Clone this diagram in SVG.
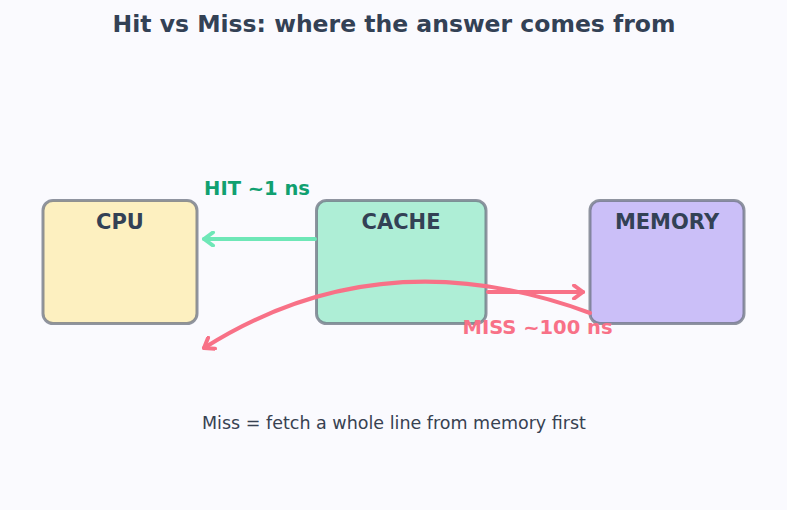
<svg xmlns="http://www.w3.org/2000/svg" width="787" height="510" viewBox="0 0 787 510">
<style>
.node{stroke:#6b7280;stroke-opacity:0.75;stroke-width:3}
.lbl{font-family:"DejaVu Sans",sans-serif;font-weight:bold;font-size:21px;fill:#334155;text-anchor:middle}
.edge{fill:none;stroke-width:4;stroke-linecap:round}
</style>
<defs>
<marker id="ag" viewBox="0 0 16 16" refX="13" refY="8" markerWidth="16" markerHeight="16" markerUnits="userSpaceOnUse" orient="auto">
<path d="M4,1.5 L13,8 L4,14.5" fill="none" stroke="#6ee7b7" stroke-width="4" stroke-linecap="round" stroke-linejoin="round"/>
</marker>
<marker id="ar" viewBox="0 0 16 16" refX="13" refY="8" markerWidth="16" markerHeight="16" markerUnits="userSpaceOnUse" orient="auto">
<path d="M4,1.5 L13,8 L4,14.5" fill="none" stroke="#f87187" stroke-width="4" stroke-linecap="round" stroke-linejoin="round"/>
</marker>
</defs>
<rect width="787" height="510" fill="#fafafe"/>
<text x="394" y="32" font-family="DejaVu Sans,sans-serif" font-weight="bold" font-size="23.5" fill="#334155" text-anchor="middle">Hit vs Miss: where the answer comes from</text>
<g id="cpu"><rect class="node" x="43" y="200.5" width="154" height="123" rx="10" fill="#fdf0c0"/><text class="lbl" x="120" y="229">CPU</text></g>
<g id="cache"><rect class="node" x="316.5" y="200.5" width="169.5" height="123" rx="10" fill="#aeeed6"/><text class="lbl" x="401" y="229">CACHE</text></g>
<g id="memory"><rect class="node" x="590" y="200.5" width="154" height="123" rx="10" fill="#cbbff8"/><text class="lbl" x="667" y="229">MEMORY</text></g>
<g id="connectors">
<path class="edge" d="M315,239 L204,239" stroke="#6ee7b7" marker-end="url(#ag)"/>
<path class="edge" d="M488,292 L583,292" stroke="#f87187" marker-end="url(#ar)"/>
<path class="edge" d="M590,313 Q381,236 204,348" stroke="#f87187" marker-end="url(#ar)"/>
<text x="257" y="195" font-family="DejaVu Sans,sans-serif" font-weight="bold" font-size="19.5" fill="#10a070" text-anchor="middle">HIT ~1 ns</text>
<text x="537.5" y="334" font-family="DejaVu Sans,sans-serif" font-weight="bold" font-size="19.5" fill="#f87187" text-anchor="middle">MISS ~100 ns</text>
</g>
<text x="394" y="429" font-family="DejaVu Sans,sans-serif" font-size="17.5" fill="#374151" text-anchor="middle">Miss = fetch a whole line from memory first</text>
</svg>
